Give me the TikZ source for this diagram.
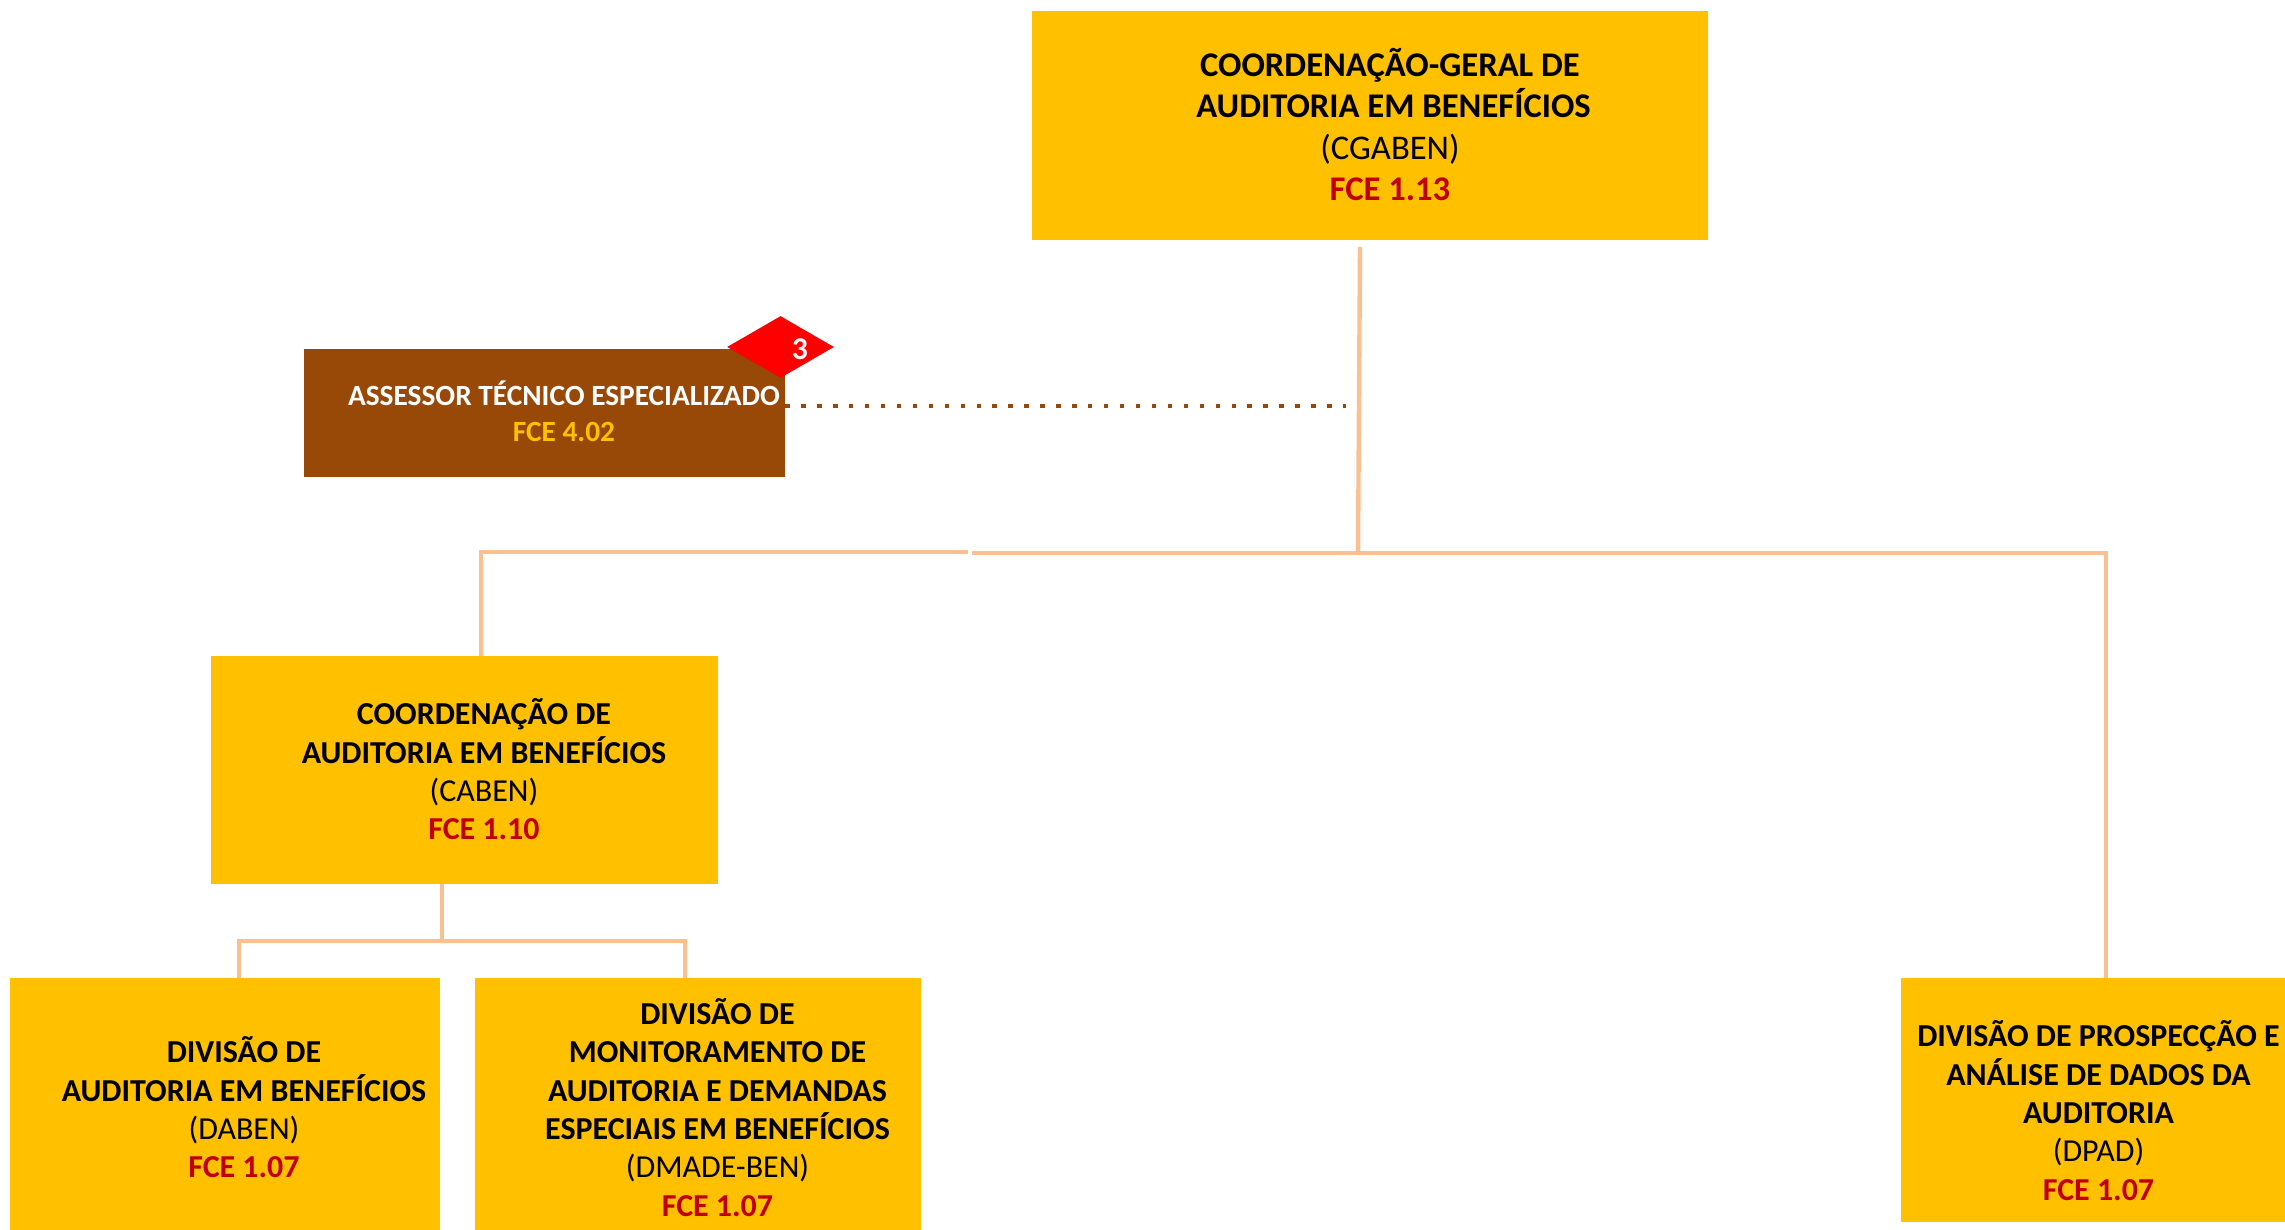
\documentclass[tikz,border=0pt]{standalone}
\usepackage{fontspec}
\setmainfont{Carlito}
\usepackage{xcolor}
\usetikzlibrary{shapes.geometric}
\definecolor{gold}{HTML}{FFC000}
\definecolor{rust}{HTML}{984807}
\definecolor{peach}{HTML}{FAC090}
\definecolor{fcered}{HTML}{C00000}
\tikzset{
	orgbox/.style={fill=gold, inner sep=0pt},
	orgtext/.style={align=center, inner sep=0pt, font=\fontsize{18.2}{21.8}\selectfont},
	orgline/.style={draw=peach, line width=2.5pt},
	dotline/.style={draw=rust, line width=2.5pt, dash pattern=on 2.5pt off 6.57pt},
}
\newcommand{\fce}[1]{{\bfseries\color{fcered}FCE #1}}
\begin{document}
\begin{tikzpicture}[x=0.02cm,y=-0.02cm]
	\useasboundingbox (0,0) rectangle (2285,1230);
	
	\node[orgbox, minimum width=13.52cm, minimum height=4.58cm] (cgaben) at (1370,125.5) {};
	\node[orgbox, fill=rust, minimum width=9.62cm, minimum height=2.56cm] (assessor) at (544.5,413) {};
	\node[orgbox, minimum width=10.14cm, minimum height=4.56cm] (caben) at (464.5,770) {};
	\node[orgbox, minimum width=8.6cm, minimum height=5.04cm] (daben) at (225,1104) {};
	\node[orgbox, minimum width=8.92cm, minimum height=5.04cm] (dmade) at (698,1104) {};
	\node[orgbox, minimum width=7.68cm, minimum height=4.88cm] (dpad) at (2093,1100) {};
	\node[diamond, fill=red, inner sep=0pt, aspect=1.73, minimum width=2.14cm, minimum height=1.24cm] (badge) at (780.5,347) {};
	
	\node[orgtext, font=\fontsize{19.7}{23.5}\selectfont] (cgabentext) at (1390,124.5) {\textbf{COORDENAÇÃO-GERAL DE}\\\hspace*{4pt}\textbf{AUDITORIA EM BENEFÍCIOS}\\(CGABEN)\\\fce{1.13}};
	\node[orgtext, font=\fontsize{16.7}{20.4}\selectfont] (assessortext) at (564,411.5) {\textcolor{white}{\textbf{ASSESSOR TÉCNICO ESPECIALIZADO}}\\\textcolor{gold}{\textbf{FCE 4.02}}};
	\node[orgtext] (cabentext) at (484,769.5) {\textbf{COORDENAÇÃO DE}\\\textbf{AUDITORIA EM BENEFÍCIOS}\\(CABEN)\\\fce{1.10}};
	\node[orgtext] (dabentext) at (244,1107.5) {\textbf{DIVISÃO DE}\\\textbf{AUDITORIA EM BENEFÍCIOS}\\(DABEN)\\\fce{1.07}};
	\node[orgtext] (dmadetext) at (717.5,1107.5) {\textbf{DIVISÃO DE}\\\textbf{MONITORAMENTO DE}\\\textbf{AUDITORIA E DEMANDAS}\\\textbf{ESPECIAIS EM BENEFÍCIOS}\\(DMADE-BEN)\\\fce{1.07}};
	\node[orgtext] (dpadtext) at (2098.5,1110.5) {\textbf{DIVISÃO DE PROSPECÇÃO E}\\\textbf{ANÁLISE DE DADOS DA}\\\textbf{AUDITORIA}\\(DPAD)\\\fce{1.07}};
	\node[inner sep=0pt, text=white, font=\fontsize{18}{20}\selectfont\bfseries] (badgetext) at (800,349) {3};
	
	\coordinate (trunktop) at (1360,247);
	\coordinate (junction) at (1358,555);
	\coordinate (leftend) at (968,552);
	\coordinate (rightstart) at (972,553);
	\coordinate (leftcorner) at (481,552);
	\coordinate (rightcorner) at (2106,553);
	\coordinate (dotend) at (1346,406);
	\coordinate (fork) at (442,941);
	
	\draw[orgline] (trunktop) -- (junction);
	\draw[orgline] (caben.north -| leftcorner) -- (leftcorner) -- (leftend);
	\draw[orgline] (rightstart) -- (rightcorner) -- (dpad.north -| rightcorner);
	\draw[dotline] (assessor.east |- dotend) -- (dotend);
	\draw[orgline] (caben.south -| fork) -- (fork);
	\draw[orgline] (daben.north -| 239,0) -- (239,941) -- (685,941) -- (dmade.north -| 685,0);
\end{tikzpicture}
\end{document}
